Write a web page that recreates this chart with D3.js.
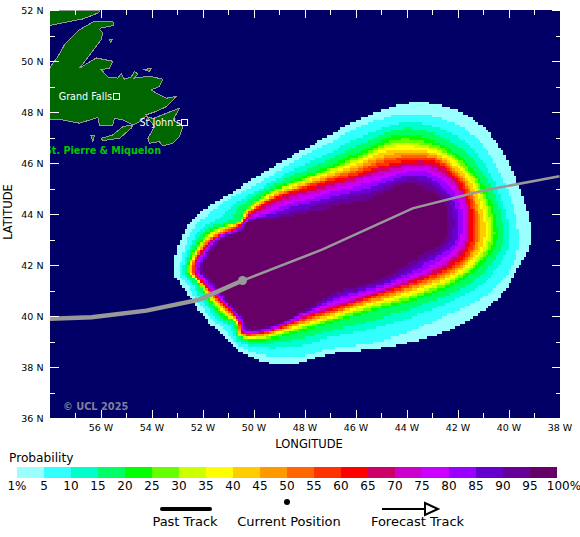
<!DOCTYPE html>
<html>
<head>
<meta charset="utf-8">
<title>Strike probability</title>
<script src="https://cdn.jsdelivr.net/npm/d3@7"></script>
<style>
    html, body { margin: 0; padding: 0; background: #fff; }
    svg { display: block; }
    text { font-family: "DejaVu Sans", sans-serif; }
</style>
</head>
<body>
<div id="chart"></div>
<script>
// probability bands, outermost first
var bandLevels = [1, 5, 10, 15, 20, 25, 30, 35, 40, 45, 50, 55, 60, 65, 70, 75, 80, 85, 90, 95];
var bandColors = ['#99ffff', '#33ffff', '#00ffcc', '#00ff66', '#00ff00', '#66ff00', '#ccff00', '#ffff00', '#ffcc00', '#ff9900',
    '#ff6600', '#ff3300', '#ff0000', '#cc0066', '#cc00cc', '#cc00ff', '#9900ff', '#6600cc', '#660099', '#660066'];
var legendLabels = ['1%', '5', '10', '15', '20', '25', '30', '35', '40', '45', '50', '55', '60', '65', '70', '75', '80', '85', '90', '95', '100%'];

// contours are read along rays out of this point
var rayOrigin = [-46.5, 43];
var rayBearings = [0, 20, 40, 60, 80, 100, 125, 145, 160, 165, 170, 175, 180, 188, 192, 196, 204, 212, 218, 223, 230, 245, 265, 290, 320, 340, 350];
// distance in degrees to each band edge, one row per bearing, one column per entry of bandLevels
var rayDistances = [
    [7.39, 6.88, 6.52, 6.29, 6.05, 5.93, 5.78, 5.66, 5.54, 5.38, 5.27, 5.19, 5.07, 4.99, 4.87, 4.76, 4.60, 4.44, 4.24, 4.01],
    [7.19, 6.72, 6.37, 6.17, 5.93, 5.82, 5.74, 5.62, 5.54, 5.42, 5.34, 5.27, 5.19, 5.11, 5.03, 4.91, 4.79, 4.60, 4.44, 4.24],
    [7.03, 6.52, 6.09, 5.78, 5.50, 5.38, 5.27, 5.19, 5.07, 4.99, 4.87, 4.83, 4.72, 4.64, 4.48, 4.32, 4.17, 3.93, 3.69, 3.42],
    [6.21, 5.70, 5.31, 5.03, 4.79, 4.56, 4.40, 4.21, 4.05, 3.85, 3.69, 3.58, 3.38, 3.26, 3.10, 2.91, 2.67, 2.40, 2.12, 1.77],
    [4.87, 4.56, 4.09, 3.77, 3.46, 3.30, 3.18, 3.07, 2.99, 2.87, 2.75, 2.67, 2.55, 2.48, 2.36, 2.24, 2.08, 1.89, 1.69, 1.45],
    [4.05, 3.77, 3.42, 3.18, 2.95, 2.83, 2.79, 2.71, 2.63, 2.55, 2.48, 2.44, 2.36, 2.28, 2.16, 2.04, 1.93, 1.73, 1.57, 1.34],
    [3.85, 3.62, 3.34, 3.14, 2.95, 2.87, 2.83, 2.75, 2.71, 2.63, 2.59, 2.55, 2.48, 2.40, 2.28, 2.16, 2.00, 1.85, 1.65, 1.41],
    [4.21, 3.93, 3.69, 3.58, 3.42, 3.34, 3.30, 3.22, 3.18, 3.14, 3.07, 3.03, 2.99, 2.91, 2.79, 2.63, 2.48, 2.28, 2.04, 1.81],
    [4.91, 4.72, 4.36, 4.13, 3.89, 3.85, 3.81, 3.77, 3.73, 3.69, 3.65, 3.62, 3.58, 3.50, 3.38, 3.26, 3.10, 2.95, 2.75, 2.52],
    [5.31, 5.03, 4.61, 4.34, 4.07, 4.02, 3.99, 3.96, 3.93, 3.89, 3.87, 3.84, 3.81, 3.77, 3.70, 3.63, 3.54, 3.43, 3.32, 3.18],
    [5.74, 5.42, 4.87, 4.48, 4.13, 4.11, 4.09, 4.07, 4.05, 4.03, 4.01, 3.99, 3.97, 3.95, 3.93, 3.91, 3.89, 3.87, 3.85, 3.81],
    [6.09, 5.82, 5.50, 5.31, 5.11, 4.98, 4.88, 4.78, 4.68, 4.58, 4.49, 4.42, 4.32, 4.30, 4.26, 4.22, 4.17, 4.11, 4.04, 3.97],
    [6.37, 6.09, 5.86, 5.74, 5.58, 5.50, 5.46, 5.38, 5.34, 5.31, 5.23, 5.19, 5.15, 5.11, 5.07, 5.03, 4.99, 4.91, 4.83, 4.76],
    [6.68, 6.41, 6.27, 6.17, 6.09, 6.04, 6.01, 5.97, 5.94, 5.91, 5.88, 5.85, 5.82, 5.79, 5.74, 5.69, 5.63, 5.55, 5.47, 5.38],
    [6.76, 6.56, 6.43, 6.34, 6.25, 6.20, 6.17, 6.13, 6.10, 6.06, 6.03, 6.01, 5.97, 5.95, 5.92, 5.88, 5.84, 5.78, 5.73, 5.66],
    [6.56, 6.33, 6.17, 6.07, 5.97, 5.95, 5.93, 5.91, 5.89, 5.87, 5.85, 5.84, 5.82, 5.79, 5.75, 5.71, 5.66, 5.60, 5.54, 5.46],
    [6.33, 6.17, 6.00, 5.89, 5.78, 5.72, 5.69, 5.64, 5.61, 5.56, 5.53, 5.50, 5.46, 5.44, 5.41, 5.38, 5.34, 5.29, 5.25, 5.19],
    [6.17, 5.97, 5.82, 5.72, 5.62, 5.55, 5.50, 5.45, 5.41, 5.36, 5.31, 5.28, 5.23, 5.22, 5.20, 5.18, 5.16, 5.13, 5.10, 5.07],
    [6.01, 5.82, 5.61, 5.48, 5.34, 5.32, 5.30, 5.28, 5.26, 5.24, 5.22, 5.21, 5.19, 5.17, 5.14, 5.12, 5.09, 5.04, 5.00, 4.95],
    [5.97, 5.86, 5.74, 5.66, 5.58, 5.54, 5.53, 5.50, 5.47, 5.45, 5.42, 5.41, 5.38, 5.36, 5.33, 5.29, 5.25, 5.19, 5.14, 5.07],
    [5.90, 5.70, 5.47, 5.33, 5.19, 5.11, 5.06, 5.01, 4.95, 4.90, 4.85, 4.81, 4.76, 4.73, 4.70, 4.66, 4.62, 4.56, 4.51, 4.44],
    [5.46, 5.11, 4.64, 4.32, 4.01, 3.89, 3.81, 3.73, 3.65, 3.58, 3.50, 3.46, 3.38, 3.34, 3.30, 3.22, 3.14, 3.07, 2.99, 2.87],
    [4.48, 4.28, 3.81, 3.54, 3.22, 3.14, 3.07, 3.01, 2.95, 2.87, 2.83, 2.79, 2.71, 2.67, 2.59, 2.52, 2.40, 2.28, 2.16, 2.00],
    [4.52, 4.24, 3.69, 3.38, 3.03, 2.95, 2.87, 2.79, 2.71, 2.67, 2.59, 2.55, 2.48, 2.44, 2.38, 2.32, 2.24, 2.14, 2.04, 1.93],
    [5.50, 4.87, 4.36, 4.01, 3.69, 3.58, 3.46, 3.38, 3.26, 3.18, 3.07, 3.01, 2.91, 2.87, 2.79, 2.71, 2.63, 2.52, 2.40, 2.24],
    [6.56, 6.13, 5.58, 5.23, 4.87, 4.72, 4.60, 4.48, 4.36, 4.24, 4.13, 4.05, 3.93, 3.85, 3.69, 3.58, 3.42, 3.18, 2.97, 2.71],
    [6.92, 6.68, 6.17, 5.86, 5.54, 5.38, 5.31, 5.19, 5.07, 4.95, 4.87, 4.79, 4.68, 4.56, 4.40, 4.24, 4.05, 3.77, 3.54, 3.22]
];

// tracks as [lon, lat]
var pastTrack = [[-58, 39.89], [-56.35, 39.95], [-54.2, 40.21], [-52.12, 40.64], [-50.43, 41.39]];
var forecastTrack = [[-50.43, 41.39], [-47.29, 42.61], [-43.76, 44.22], [-40.94, 44.93], [-38, 45.48]];
var currentPosition = [-50.43, 41.39];

// coastline as [lon, lat]
var labrador = [[-58, 52], [-56.04, 52], [-56.07, 51.89], [-56.69, 51.65], [-57.61, 51.47], [-58, 51.39]];
var newfoundland = [[-58, 49.72], [-57.67, 50.18], [-57.41, 50.64], [-56.82, 51.23], [-56.24, 51.56], [-55.52, 51.56], [-55.48, 51.39],
    [-55.97, 51.30], [-56.04, 51.23], [-55.91, 51.10], [-55.97, 50.84], [-56.37, 50.31], [-56.56, 50.05], [-56.82, 49.72], [-56.17, 50.12],
    [-55.52, 49.99], [-55.65, 49.72], [-55.97, 49.66], [-55.71, 49.37], [-55.32, 49.33], [-55.19, 49.50], [-55.06, 49.29], [-54.80, 49.37],
    [-54.67, 49.59], [-54.54, 49.50], [-54.67, 49.33], [-54.08, 49.40], [-53.56, 49.29], [-53.69, 49.00], [-54.01, 48.87], [-53.82, 48.74],
    [-53.42, 48.54], [-53.03, 48.61], [-53.42, 48.21], [-53.82, 48.02], [-54.21, 47.89], [-54.14, 47.79], [-53.92, 47.75], [-53.42, 47.95],
    [-52.90, 48.15], [-53.16, 47.69], [-52.77, 47.43], [-52.90, 47.03], [-53.16, 46.77], [-53.56, 46.67], [-53.69, 46.84], [-54.08, 46.77],
    [-54.14, 46.97], [-53.88, 47.43], [-54.21, 47.85], [-54.47, 47.62], [-54.73, 47.49], [-55.12, 47.69], [-55.45, 47.75], [-55.52, 47.49],
    [-56.04, 47.49], [-56.10, 47.79], [-56.82, 47.56], [-57.48, 47.69], [-58, 47.72]];
var burin = [[-55.97, 46.97], [-55.52, 47.10], [-55.12, 47.43], [-54.73, 47.49], [-54.80, 47.36], [-55.25, 46.97], [-55.91, 46.88]];
var stPierre = [[-56.37, 47.06], [-56.24, 47.06], [-56.30, 46.84]];
var islet = [[-54.27, 49.66], [-54.01, 49.72], [-54.08, 49.59]];
var rock = [[-55.65, 50.84], [-55.55, 50.84], [-55.60, 50.72]];

var cityNames = ['Grand Falls', "St John's"];
var cityPositions = [[-55.39, 48.59], [-52.69, 47.57]];

var lonTicksMajor = [-56, -54, -52, -50, -48, -46, -44, -42, -40, -38];
var lonTicksMinor = [-57, -55, -53, -51, -49, -47, -45, -43, -41, -39];
var latTicksMajor = [52, 50, 48, 46, 44, 42, 40, 38, 36];
var latTicksMinor = [51, 49, 47, 45, 43, 41, 39, 37];

var keyNames = ['Past Track', 'Current Position', 'Forecast Track'];

var width = 580;
var height = 537;
var plot = { left: 50, right: 560, top: 10, bottom: 418 };
var cellSize = 0.1; // the field is gridded in tenths of a degree

var svg = d3.select('#chart')
    .append('svg')
    .attr('width', width)
    .attr('height', height);

var xScale = d3.scaleLinear().domain([-58, -38]).range([49.5, 559.5]);
var yScale = d3.scaleLinear().domain([52, 36]).range([plot.top, plot.bottom]);

svg.append('defs').append('clipPath')
    .attr('id', 'plot-clip')
    .append('rect')
    .attr('x', plot.left)
    .attr('y', plot.top)
    .attr('width', plot.right - plot.left)
    .attr('height', plot.bottom - plot.top);

var map = svg.append('g').attr('clip-path', 'url(#plot-clip)');

map.append('rect')
    .attr('x', plot.left)
    .attr('y', plot.top)
    .attr('width', plot.right - plot.left)
    .attr('height', plot.bottom - plot.top)
    .attr('fill', '#000066');

// probability bands: smooth each contour, then fill a grid of cells from them
var contourLine = d3.line()
    .x(function(d) { return xScale(d[0]); })
    .y(function(d) { return yScale(d[1]); })
    .curve(d3.curveCatmullRomClosed.alpha(0.5));

function contourPoints(levelIndex)
{
    return rayBearings.map(function(bearing, i)
    {
        var a = bearing * Math.PI / 180;
        var r = rayDistances[i][levelIndex];
        return [rayOrigin[0] + r * Math.cos(a), rayOrigin[1] + r * Math.sin(a)];
    });
}

var contourPolygons = bandLevels.map(function(level, i)
{
    var path = svg.append('path').attr('d', contourLine(contourPoints(i)));
    var node = path.node();
    var total = node.getTotalLength();
    var polygon = d3.range(0, total, 2).map(function(len)
    {
        var p = node.getPointAtLength(len);
        return [p.x, p.y];
    });
    path.remove();
    return polygon;
});

// index of the innermost contour holding the point, -1 if outside them all
function bandIndexAt(point)
{
    if (!d3.polygonContains(contourPolygons[0], point)) return -1;
    var low = 0;
    var high = contourPolygons.length - 1;
    while (low < high)
    {
        var mid = Math.ceil((low + high) / 2);
        if (d3.polygonContains(contourPolygons[mid], point)) low = mid;
        else high = mid - 1;
    }
    return low;
}

var cellRuns = [];
var rowCount = Math.round((52 - 36) / cellSize);
var colCount = Math.round((58 - 38) / cellSize);

d3.range(rowCount).forEach(function(row)
{
    var latTop = 52 - row * cellSize;
    var cy = yScale(latTop - cellSize / 2);
    var run = null;
    d3.range(colCount).forEach(function(col)
    {
        var lonLeft = -58 + col * cellSize;
        var band = bandIndexAt([xScale(lonLeft + cellSize / 2), cy]);
        if (run && run.band === band)
        {
            run.lonRight = lonLeft + cellSize;
        }
        else
        {
            run = { band: band, latTop: latTop, lonLeft: lonLeft, lonRight: lonLeft + cellSize };
            if (band >= 0) cellRuns.push(run);
        }
    });
});

map.selectAll('rect.band')
    .data(cellRuns)
    .enter()
    .append('rect')
    .attr('class', 'band')
    .attr('x', function(d) { return xScale(d.lonLeft); })
    .attr('y', function(d) { return yScale(d.latTop); })
    .attr('width', function(d) { return xScale(d.lonRight) - xScale(d.lonLeft); })
    .attr('height', function(d) { return yScale(d.latTop - cellSize) - yScale(d.latTop); })
    .attr('fill', function(d) { return bandColors[d.band]; })
    .attr('shape-rendering', 'crispEdges');

// land
var landLine = d3.line()
    .x(function(d) { return xScale(d[0]); })
    .y(function(d) { return yScale(d[1]); })
    .curve(d3.curveLinearClosed);

map.selectAll('path.land')
    .data([labrador, newfoundland, burin, stPierre, islet, rock])
    .enter()
    .append('path')
    .attr('class', 'land')
    .attr('d', landLine)
    .attr('fill', '#006600')
    .attr('stroke', '#999999')
    .attr('stroke-width', 1)
    .attr('shape-rendering', 'crispEdges');

// place names
map.selectAll('rect.city')
    .data(cityPositions)
    .enter()
    .append('rect')
    .attr('class', 'city')
    .attr('x', function(d) { return xScale(d[0]) - 3; })
    .attr('y', function(d) { return yScale(d[1]) - 3; })
    .attr('width', 6)
    .attr('height', 6)
    .attr('fill', 'none')
    .attr('stroke', '#fff')
    .attr('stroke-width', 1)
    .attr('shape-rendering', 'crispEdges');

map.selectAll('text.city')
    .data(cityPositions)
    .enter()
    .append('text')
    .attr('class', 'city')
    .attr('x', function(d) { return xScale(d[0]) - 4; })
    .attr('y', function(d) { return yScale(d[1]) + 3.5; })
    .attr('text-anchor', 'end')
    .attr('font-size', 9.6)
    .attr('fill', '#fff')
    .text(function(d, i) { return cityNames[i]; });

map.append('text')
    .attr('x', 161)
    .attr('y', 154)
    .attr('text-anchor', 'end')
    .attr('font-size', 9.6)
    .attr('font-weight', 'bold')
    .attr('fill', '#00c800')
    .text('St. Pierre & Miquelon');

map.append('text')
    .attr('x', 63)
    .attr('y', 410)
    .attr('font-size', 9.8)
    .attr('font-weight', 'bold')
    .attr('fill', '#7f7f99')
    .text('\u00a9 UCL 2025');

// tracks
var trackLine = d3.line()
    .x(function(d) { return xScale(d[0]); })
    .y(function(d) { return yScale(d[1]); });

map.append('path')
    .attr('d', trackLine(forecastTrack))
    .attr('fill', 'none')
    .attr('stroke', '#999999')
    .attr('stroke-width', 2.5);

map.append('path')
    .attr('d', trackLine(pastTrack))
    .attr('fill', 'none')
    .attr('stroke', '#999999')
    .attr('stroke-width', 4.5);

map.append('circle')
    .attr('cx', xScale(currentPosition[0]))
    .attr('cy', yScale(currentPosition[1]))
    .attr('r', 4.5)
    .attr('fill', '#999999');

// ticks point into the map on all four sides
function drawAxis(axis, x, y, values, size, format)
{
    var g = svg.append('g')
        .attr('transform', 'translate(' + x + ',' + y + ')')
        .call(axis.tickValues(values).tickSize(-size).tickPadding(format ? 6.5 : 0).tickFormat(format || ''));
    g.select('.domain').remove();
    g.selectAll('line').attr('stroke', '#fff').attr('shape-rendering', 'crispEdges');
    g.selectAll('text')
        .attr('font-family', '"DejaVu Sans", sans-serif')
        .attr('font-size', 9.5)
        .attr('fill', '#000');
}

function lonLabel(d) { return Math.abs(d) + ' W'; }
function latLabel(d) { return d + ' N'; }

drawAxis(d3.axisBottom(xScale), 0, plot.bottom, lonTicksMajor, 8, lonLabel);
drawAxis(d3.axisBottom(xScale), 0, plot.bottom, lonTicksMinor, 5);
drawAxis(d3.axisTop(xScale), 0, plot.top, lonTicksMajor, 8);
drawAxis(d3.axisTop(xScale), 0, plot.top, lonTicksMinor, 5);
drawAxis(d3.axisLeft(yScale), plot.left, 0, latTicksMajor, 9, latLabel);
drawAxis(d3.axisLeft(yScale), plot.left, 0, latTicksMinor, 5);
drawAxis(d3.axisRight(yScale), plot.right, 0, latTicksMajor, 8);
drawAxis(d3.axisRight(yScale), plot.right, 0, latTicksMinor, 4);

svg.append('text')
    .attr('x', 309)
    .attr('y', 448)
    .attr('text-anchor', 'middle')
    .attr('font-size', 11.5)
    .text('LONGITUDE');

svg.append('text')
    .attr('transform', 'translate(12,212) rotate(-90)')
    .attr('text-anchor', 'middle')
    .attr('font-size', 11.5)
    .text('LATITUDE');

// legend
var legendScale = d3.scalePoint().domain(legendLabels).range([17, 557]);
var legendStep = legendScale.step();

svg.append('text')
    .attr('x', 9)
    .attr('y', 462)
    .attr('font-size', 12.2)
    .text('Probability');

svg.selectAll('rect.legend')
    .data(bandColors)
    .enter()
    .append('rect')
    .attr('class', 'legend')
    .attr('x', function(d, i) { return legendScale(legendLabels[i]); })
    .attr('y', 467)
    .attr('width', legendStep)
    .attr('height', 10.5)
    .attr('fill', function(d) { return d; })
    .attr('shape-rendering', 'crispEdges');

svg.selectAll('text.legend')
    .data(legendLabels)
    .enter()
    .append('text')
    .attr('class', 'legend')
    .attr('x', function(d, i) { return legendScale(d) + (i === legendLabels.length - 1 ? 7 : 0); })
    .attr('y', 489.5)
    .attr('text-anchor', 'middle')
    .attr('font-size', 12)
    .text(function(d) { return d; });

// track key
svg.append('line')
    .attr('x1', 162).attr('x2', 210)
    .attr('y1', 509).attr('y2', 509)
    .attr('stroke', '#000')
    .attr('stroke-width', 4)
    .attr('stroke-linecap', 'round');

svg.append('circle')
    .attr('cx', 287)
    .attr('cy', 502)
    .attr('r', 3)
    .attr('fill', '#000');

svg.append('line')
    .attr('x1', 382).attr('x2', 425)
    .attr('y1', 509).attr('y2', 509)
    .attr('stroke', '#000')
    .attr('stroke-width', 2);

svg.append('path')
    .attr('d', d3.line()([[425, 503], [438, 509], [425, 515]]) + 'Z')
    .attr('fill', 'none')
    .attr('stroke', '#000')
    .attr('stroke-width', 2);

var keyCentres = [185, 289, 417.5];

svg.selectAll('text.key')
    .data(keyNames)
    .enter()
    .append('text')
    .attr('class', 'key')
    .attr('x', function(d, i) { return keyCentres[i]; })
    .attr('y', 526)
    .attr('text-anchor', 'middle')
    .attr('font-size', 13)
    .text(function(d) { return d; });
</script>
</body>
</html>
